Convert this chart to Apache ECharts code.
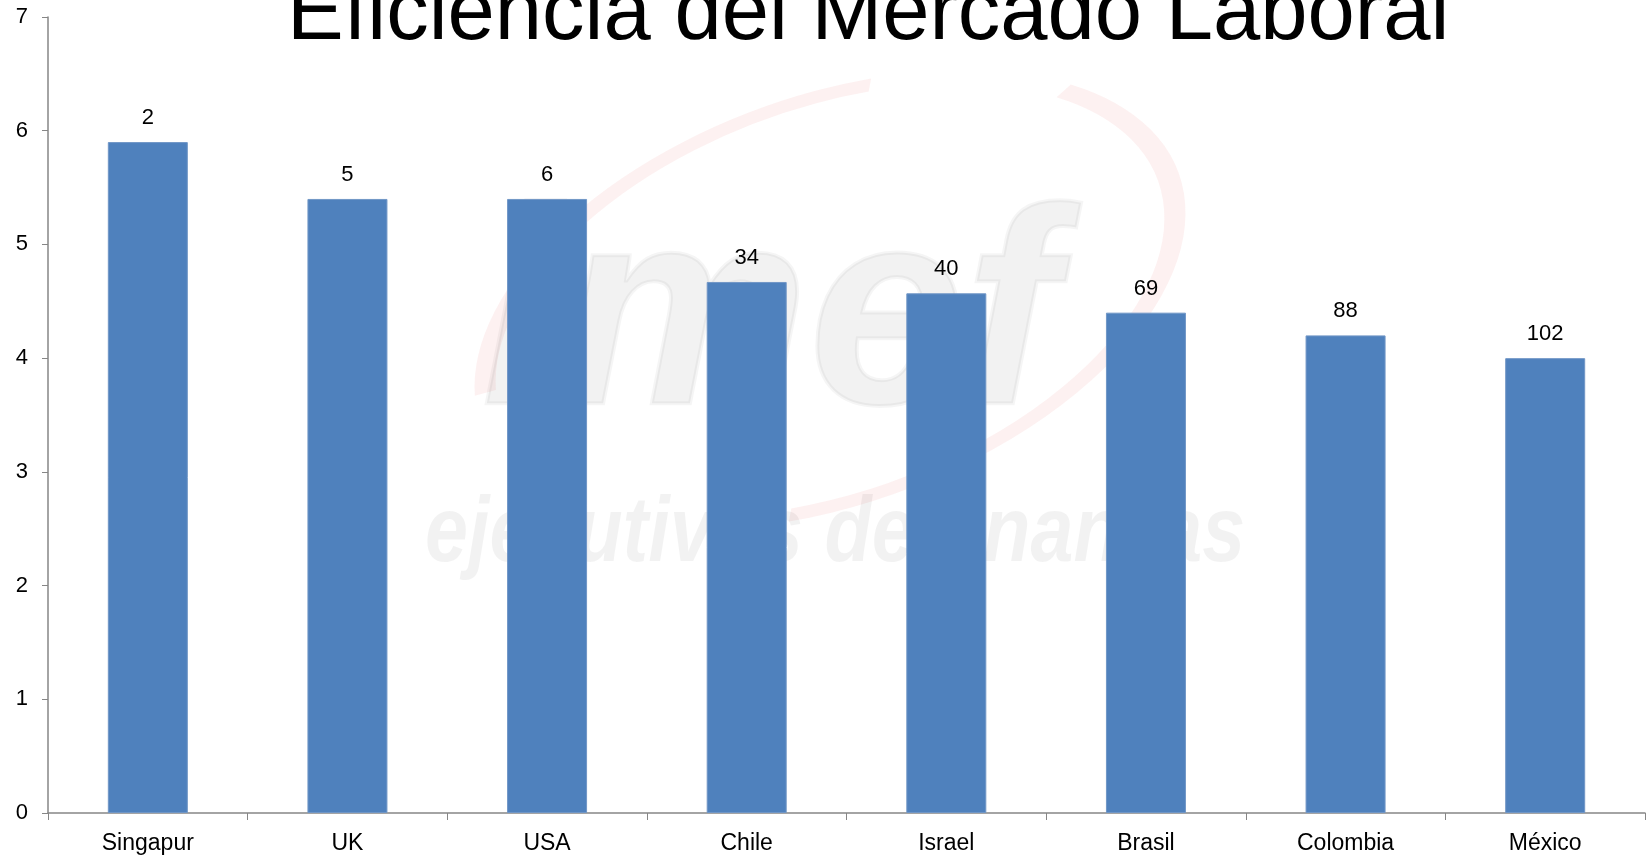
<!DOCTYPE html>
<html>
<head>
<meta charset="utf-8">
<title>Eficiencia del Mercado Laboral</title>
<script src="https://cdn.jsdelivr.net/npm/echarts@6/dist/echarts.min.js"></script>
<style>
    html, body { margin: 0; padding: 0; background: #fff; }
    #_chart { width: 1650px; height: 857px; }
</style>
</head>
<body>
<div id="_chart"></div>
<script>
// datos
var paises = ['Singapur', 'UK', 'USA', 'Chile', 'Israel', 'Brasil', 'Colombia', 'México'];
var puntaje = [5.9, 5.4, 5.4, 4.67, 4.57, 4.4, 4.2, 4.0];
var ranking = [2, 5, 6, 34, 40, 69, 88, 102];
var yTicks = [0, 1, 2, 3, 4, 5, 6, 7];

var chart = echarts.init(document.getElementById('_chart'));
var fuente = '"Liberation Sans", Arial, sans-serif';

var option = {
    animation: false,
    backgroundColor: '#ffffff',
    title: {
        text: 'Eficiencia del Mercado Laboral',
        left: 282,
        top: -32,
        textStyle: {
            fontFamily: fuente,
            fontSize: 85,
            fontWeight: 'normal',
            color: '#000'
        }
    },
    // marca de agua imef (muy tenue)
    graphic: [
        {
            type: 'arc',
            z: -10,
            x: 830, y: 300,
            rotation: 0.35,
            scaleX: 1, scaleY: 0.55,
            shape: { cx: 0, cy: 0, r: 360, startAngle: Math.PI * 1.05, endAngle: Math.PI * 1.6 },
            style: { stroke: 'rgba(225,50,50,0.07)', lineWidth: 22, fill: null }
        },
        {
            type: 'arc',
            z: -10,
            x: 830, y: 300,
            rotation: 0.35,
            scaleX: 1, scaleY: 0.55,
            shape: { cx: 0, cy: 0, r: 360, startAngle: Math.PI * 1.8, endAngle: Math.PI * 2.6 },
            style: { stroke: 'rgba(225,50,50,0.07)', lineWidth: 22, fill: null }
        },
        {
            type: 'text',
            z: -9,
            x: 482,
            y: 186,
            style: {
                text: 'imef',
                font: 'italic bold 280px ' + fuente,
                fill: 'rgba(0,0,0,0.05)',
                stroke: 'rgba(0,0,0,0.04)',
                lineWidth: 4
            }
        },
        {
            type: 'text',
            z: -9,
            x: 425,
            y: 490,
            scaleX: 0.84,
            style: {
                text: 'ejecutivos de finanzas',
                font: 'italic bold 92px ' + fuente,
                fill: 'rgba(0,0,0,0.05)'
            }
        }
    ],
    grid: {
        left: 48,
        right: 5,
        top: 17,
        bottom: 44,
        containLabel: false
    },
    xAxis: {
        type: 'category',
        data: paises,
        boundaryGap: true,
        axisLine: { lineStyle: { color: '#868686', width: 1.5 } },
        axisTick: { show: true, length: 7, alignWithLabel: false, lineStyle: { color: '#868686' } },
        axisLabel: {
            margin: 19,
            fontFamily: fuente,
            fontSize: 23,
            color: '#000'
        },
        splitLine: { show: false }
    },
    yAxis: {
        type: 'value',
        min: yTicks[0],
        max: yTicks[yTicks.length - 1],
        interval: 1,
        axisLine: { show: true, lineStyle: { color: '#868686', width: 1.5 } },
        axisTick: { show: true, length: 6, lineStyle: { color: '#868686' } },
        axisLabel: {
            margin: 20,
            fontFamily: fuente,
            fontSize: 22,
            color: '#000'
        },
        splitLine: { show: false }
    },
    series: [{
        type: 'bar',
        data: puntaje,
        barWidth: 80,
        itemStyle: {
            color: '#4f81bd',
            borderColor: '#7096c6',
            borderWidth: 1
        },
        label: {
            show: true,
            position: 'top',
            distance: 13,
            fontFamily: fuente,
            fontSize: 22,
            color: '#000',
            formatter: function (p) { return ranking[p.dataIndex]; }
        }
    }]
};
chart.setOption(option);
</script>
</body>
</html>
